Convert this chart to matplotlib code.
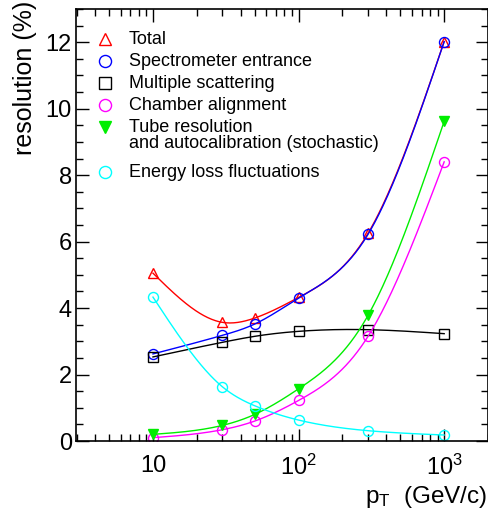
import numpy as np
import matplotlib
matplotlib.use("Agg")
import matplotlib.pyplot as plt
from matplotlib.ticker import FixedLocator, FixedFormatter, MultipleLocator, LogLocator, NullFormatter

plt.rcParams['font.family'] = ['Liberation Sans', 'DejaVu Sans']
plt.rcParams['mathtext.fontset'] = 'custom'
plt.rcParams['mathtext.rm'] = 'Liberation Sans'
plt.rcParams['mathtext.it'] = 'Liberation Sans:italic'

# data
pt = [10, 30, 50, 100, 300, 1000]
total = [5.05, 3.57, 3.70, 4.32, 6.25, 12.02]
spectro = [2.62, 3.18, 3.52, 4.30, 6.22, 12.02]
multscat = [2.53, 2.97, 3.15, 3.30, 3.35, 3.23]
chamber = [0.10, 0.34, 0.60, 1.22, 3.15, 8.40]
tube = [0.20, 0.47, 0.80, 1.57, 3.78, 9.62]
eloss = [4.33, 1.63, 1.06, 0.63, 0.31, 0.18]

names = ["Total", "Spectrometer entrance", "Multiple scattering", "Chamber alignment",
         "Tube resolution\nand autocalibration (stochastic)", "Energy loss fluctuations"]
series = [total, spectro, multscat, chamber, tube, eloss]
colors = ["#ff0000", "#0000ff", "#000000", "#ff00ff", "#00ee00", "#00ffff"]
markers = ["^", "o", "s", "o", "v", "o"]
msizes = [7, 7.2, 6.5, 7.2, 7.2, 7.2]
filled = [False, False, False, False, True, False]


def smooth(x, y, n=300):
    # natural cubic spline through the points, in log10(x)
    t = np.log10(x)
    y = np.asarray(y, float)
    k = len(t)
    h = np.diff(t)
    A = np.zeros((k, k))
    b = np.zeros(k)
    A[0, 0] = A[-1, -1] = 1
    for i in range(1, k - 1):
        A[i, i - 1] = h[i - 1]
        A[i, i] = 2 * (h[i - 1] + h[i])
        A[i, i + 1] = h[i]
        b[i] = 6 * ((y[i + 1] - y[i]) / h[i] - (y[i] - y[i - 1]) / h[i - 1])
    M = np.linalg.solve(A, b)
    tt = np.linspace(t[0], t[-1], n)
    j = np.clip(np.searchsorted(t, tt) - 1, 0, k - 2)
    d1 = tt - t[j]
    d2 = t[j + 1] - tt
    hj = h[j]
    yy = (M[j] * d2 ** 3 + M[j + 1] * d1 ** 3) / (6 * hj) \
        + (y[j] / hj - M[j] * hj / 6) * d2 + (y[j + 1] / hj - M[j + 1] * hj / 6) * d1
    return 10 ** tt, yy


fig = plt.figure(figsize=(4.88, 5.11), dpi=100)
ax = fig.add_axes([76 / 488, 70 / 511, 412 / 488, 432 / 511])

for ys, c, m, s, f in zip(series, colors, markers, msizes, filled):
    sx, sy = smooth(pt, ys)
    ax.plot(sx, sy, color=c, lw=1)
    ax.plot(pt, ys, ls="none", marker=m, ms=s, mec=c, mew=1,
            mfc=c if f else "none")

ax.set_xscale("log")
ax.set_xlim(2.96, 2000)
ax.set_ylim(0, 13)

ax.xaxis.set_major_locator(FixedLocator([10, 100, 1000]))
ax.xaxis.set_major_formatter(FixedFormatter(["10", r"$\mathregular{10^{2}}$", r"$\mathregular{10^{3}}$"]))
ax.xaxis.set_minor_locator(LogLocator(base=10, subs=np.arange(2, 10)))
ax.xaxis.set_minor_formatter(NullFormatter())
ax.yaxis.set_major_locator(MultipleLocator(2))
ax.yaxis.set_minor_locator(MultipleLocator(0.5))

ax.tick_params(which="both", direction="in", top=True, right=True, labelsize=17, width=1)
ax.tick_params(which="major", length=9)
ax.tick_params(which="minor", length=5)
ax.tick_params(axis="x", which="major", pad=10)
ax.tick_params(axis="y", which="major", pad=3)
for sp in ax.spines.values():
    sp.set_linewidth(1.2)

fig.text(487 / 488, 1 / 511, r"p$_\mathregular{T}$  (GeV/c)", ha="right", va="bottom", fontsize=17.5)
fig.text(25 / 488, 1 - 1 / 511, "resolution (%)", rotation=90, ha="center", va="top", fontsize=18)

# legend drawn by hand
rows = [39, 61, 83, 105, 127, 172]
for yy, name, c, m, s, f in zip(rows, names, colors, markers, msizes, filled):
    ya = 1 - (yy - 9) / 432
    ax.plot([(105 - 76) / 412], [ya], transform=ax.transAxes, marker=m, ms=s + 1.5, mec=c, mew=1,
            mfc=c if f else "none", ls="none", clip_on=False)
    if "\n" in name:
        ax.text((129 - 76) / 412, ya + 8 / 432, name, transform=ax.transAxes, fontsize=13,
                va="top", linespacing=0.95)
    else:
        ax.text((129 - 76) / 412, ya, name, transform=ax.transAxes, fontsize=13, va="center")

fig.savefig("out.png", dpi=100)
